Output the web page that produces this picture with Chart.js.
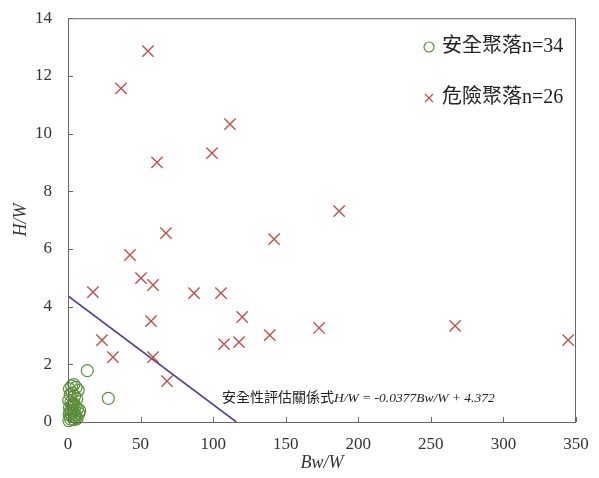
<!DOCTYPE html>
<html>
<head>
<meta charset="utf-8">
<script src="https://cdn.jsdelivr.net/npm/chart.js@4.4.1/dist/chart.umd.min.js"></script>
<style>
  html, body { margin: 0; padding: 0; background: #fff; }
  #wrap { width: 599px; height: 478px; }
</style>
</head>
<body>
<div id="wrap"><canvas id="c" width="599" height="478"></canvas></div>
<script>
// 安全聚落 (Bw/W, H/W)
const safeX = [13.3, 27.8, 1.0, 2.5, 4.0, 5.5, 7.0, 8.0, 1.5, 3.0, 4.5, 6.0, 0.5, 2.0, 3.5, 5.0,
               6.5, 1.0, 2.5, 4.0, 7.5, 0.8, 3.0, 5.5, 1.8, 4.2, 6.2, 0.6, 2.2, 3.8, 5.2, 1.2, 2.8, 4.6];
const safeY = [1.78, 0.82, 1.15, 1.25, 1.30, 1.20, 1.10, 0.40, 0.95, 1.00, 0.90, 0.80, 0.75, 0.70,
               0.60, 0.55, 0.45, 0.50, 0.40, 0.35, 0.30, 0.25, 0.20, 0.15, 0.10, 0.08, 0.12, 0.05,
               0.30, 0.65, 0.25, 0.35, 0.55, 0.18];
// 危險聚落
const dangerX = [55.1, 36.5, 111.6, 61.3, 99.2, 186.8, 67.5, 42.7, 142, 50.3, 58.6, 17.2, 86.8,
                 105.4, 57.2, 120, 139, 173, 266.7, 344.6, 23.4, 117.8, 107.5, 31, 58.6, 68.2];
const dangerY = [12.86, 11.57, 10.33, 9.0, 9.32, 7.31, 6.55, 5.79, 6.34, 4.99, 4.75, 4.5, 4.47,
                 4.47, 3.5, 3.64, 3.01, 3.26, 3.33, 2.84, 2.84, 2.77, 2.70, 2.25, 2.25, 1.42];
// 安全性評估關係式 H/W = -0.0377 Bw/W + 4.372
const lineX = [0, 115.97];
const lineY = [4.372, 0];

const xTicks = [0, 50, 100, 150, 200, 250, 300, 350];
const yTicks = [0, 2, 4, 6, 8, 10, 12, 14];

const green = '#5b8f3a';
const red = '#c0504d';
const purple = '#5a3f8c';
const serif = '"Liberation Serif", "Noto Sans CJK TC", serif';

const zip = (xs, ys) => xs.map((x, i) => ({ x: x, y: ys[i] }));

// 外框、內向刻度、圖例與公式
const decor = {
  id: 'decor',
  afterDraw(chart) {
    const { ctx, chartArea: a, scales } = chart;
    ctx.save();
    ctx.strokeStyle = '#666';
    ctx.lineWidth = 1;
    ctx.strokeRect(a.left + 0.5, a.top + 0.5, a.right - a.left - 1, a.bottom - a.top);
    ctx.beginPath();
    xTicks.forEach(v => {
      const px = Math.round(scales.x.getPixelForValue(v)) + 0.5;
      ctx.moveTo(px, a.bottom);
      ctx.lineTo(px, a.bottom - 5);
    });
    yTicks.forEach(v => {
      const py = Math.round(scales.y.getPixelForValue(v)) + 0.5;
      ctx.moveTo(a.left, py);
      ctx.lineTo(a.left + 5, py);
    });
    ctx.stroke();

    // 圖例
    ctx.fillStyle = '#222';
    ctx.font = '20px ' + serif;
    ctx.textBaseline = 'middle';
    ctx.textAlign = 'left';
    ctx.strokeStyle = green;
    ctx.lineWidth = 1.2;
    ctx.beginPath();
    ctx.arc(429, 47, 5, 0, Math.PI * 2);
    ctx.stroke();
    ctx.fillText('安全聚落n=34', 442, 47);
    ctx.strokeStyle = red;
    ctx.beginPath();
    ctx.moveTo(425, 94); ctx.lineTo(433, 102);
    ctx.moveTo(433, 94); ctx.lineTo(425, 102);
    ctx.stroke();
    ctx.fillText('危險聚落n=26', 442, 98);

    // 公式
    ctx.font = '14px ' + serif;
    let x = 222;
    const y = 398;
    const part1 = '安全性評估關係式';
    ctx.fillText(part1, x, y);
    x += ctx.measureText(part1).width;
    ctx.font = 'italic 13.5px ' + serif;
    ctx.fillText('H/W = -0.0377Bw/W + 4.372', x, y);
    ctx.restore();
  }
};

new Chart(document.getElementById('c'), {
  type: 'scatter',
  data: {
    datasets: [
      {
        label: '安全聚落n=34',
        data: zip(safeX, safeY),
        pointStyle: 'circle',
        pointRadius: 6,
        pointHoverRadius: 6,
        backgroundColor: 'rgba(0,0,0,0)',
        borderColor: green,
        borderWidth: 1.2,
        clip: false
      },
      {
        label: '危險聚落n=26',
        data: zip(dangerX, dangerY),
        pointStyle: 'crossRot',
        pointRadius: 8,
        pointHoverRadius: 8,
        borderColor: red,
        borderWidth: 1.4,
        clip: false
      },
      {
        type: 'line',
        label: '安全性評估關係式',
        data: zip(lineX, lineY),
        borderColor: purple,
        borderWidth: 1.6,
        pointRadius: 0,
        fill: false
      }
    ]
  },
  options: {
    responsive: false,
    animation: false,
    layout: { padding: { top: 18, right: 23, left: 6, bottom: 0 } },
    plugins: {
      legend: { display: false },
      tooltip: { enabled: false }
    },
    scales: {
      x: {
        type: 'linear',
        min: 0, max: 350,
        afterFit: s => { s.height = 56; },
        afterBuildTicks: s => { s.ticks = xTicks.map(v => ({ value: v })); },
        grid: { display: false },
        border: { display: false },
        ticks: { color: '#333', font: { family: serif, size: 17 }, padding: 4, maxRotation: 0 },
        title: {
          display: true, text: 'Bw/W', color: '#333',
          font: { family: serif, size: 18, style: 'italic' }, padding: { top: 2 }
        }
      },
      y: {
        type: 'linear',
        min: 0, max: 14,
        afterFit: s => { s.width = 62; },
        afterBuildTicks: s => { s.ticks = yTicks.map(v => ({ value: v })); },
        grid: { display: false },
        border: { display: false },
        ticks: { color: '#333', font: { family: serif, size: 17 }, padding: 8 },
        title: {
          display: true, text: 'H/W', color: '#333',
          font: { family: serif, size: 18, style: 'italic' }, padding: { bottom: 4 }
        }
      }
    }
  },
  plugins: [decor]
});
</script>
</body>
</html>
